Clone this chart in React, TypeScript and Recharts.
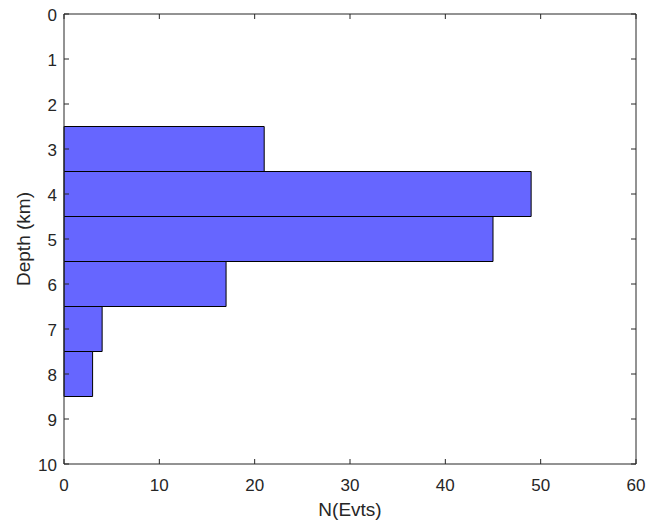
import React from "react";
import { BarChart, Bar, XAxis, YAxis } from "recharts";

const depths = [3, 4, 5, 6, 7, 8];
const counts = [21, 49, 45, 17, 4, 3];
const depthTicks = [0, 1, 2, 3, 4, 5, 6, 7, 8, 9, 10];
const countTicks = [0, 10, 20, 30, 40, 50, 60];

const data = depths.map((d, i) => ({ depth: d, count: counts[i] }));

const INK = "#262626";
const FONT = "'Liberation Sans', Arial, sans-serif";
const TICK_LEN = 5;
const MARGIN = 7;

const LeftTick = (props: any) => {
  const { x, y, payload } = props;
  const ax = x + MARGIN;
  return (
    <g>
      <line x1={ax} x2={ax + TICK_LEN} y1={y} y2={y} stroke={INK} />
      <text x={x} y={y + 1} textAnchor="end" dominantBaseline="central" fill={INK} fontSize={17} fontFamily={FONT}>
        {payload.value}
      </text>
    </g>
  );
};

const BottomTick = (props: any) => {
  const { x, y, payload } = props;
  const ay = y - MARGIN;
  return (
    <g>
      <line x1={x} x2={x} y1={ay} y2={ay - TICK_LEN} stroke={INK} />
      <text x={x} y={y + 8} textAnchor="middle" dy="0.71em" fill={INK} fontSize={17} fontFamily={FONT}>
        {payload.value}
      </text>
    </g>
  );
};

const RightTick = (props: any) => {
  const { x, y } = props;
  return <line x1={x} x2={x - TICK_LEN} y1={y} y2={y} stroke={INK} />;
};

const TopTick = (props: any) => {
  const { x, y } = props;
  return <line x1={x} x2={x} y1={y} y2={y + TICK_LEN} stroke={INK} />;
};

const YTitle = (props: any) => {
  const { viewBox } = props;
  const cx = viewBox.x + 23;
  const cy = viewBox.y + viewBox.height / 2;
  return (
    <text x={cx} y={cy} transform={`rotate(-90 ${cx} ${cy})`} textAnchor="middle" dominantBaseline="central" fill={INK} fontSize={19} fontFamily={FONT}>
      Depth (km)
    </text>
  );
};

const XTitle = (props: any) => {
  const { viewBox } = props;
  const cx = viewBox.x + viewBox.width / 2;
  const cy = viewBox.y + 45;
  return (
    <text x={cx} y={cy} textAnchor="middle" dominantBaseline="central" fill={INK} fontSize={19} fontFamily={FONT}>
      N(Evts)
    </text>
  );
};

export default function App() {
  return (
    <div style={{ position: "absolute", left: 0, top: 0, width: 650, height: 524, background: "#fff" }}>
      <BarChart
        width={650}
        height={524}
        data={data}
        layout="vertical"
        margin={{ top: 13, right: 13, bottom: 0, left: 0 }}
        barCategoryGap={0}
      >
        <XAxis
          type="number"
          dataKey="count"
          domain={[0, 60]}
          ticks={countTicks}
          height={60}
          tickSize={0}
          tickMargin={MARGIN}
          tickLine={false}
          axisLine={{ stroke: INK }}
          tick={<BottomTick />}
          interval={0}
          label={<XTitle />}
        />
        <XAxis
          xAxisId="top"
          orientation="top"
          type="number"
          dataKey="count"
          domain={[0, 60]}
          ticks={countTicks}
          allowDataOverflow
          height={1}
          tickSize={0}
          tickMargin={0}
          tickLine={false}
          axisLine={{ stroke: INK }}
          tick={<TopTick />}
          interval={0}
        />
        <YAxis
          type="number"
          dataKey="depth"
          domain={[0, 10]}
          ticks={depthTicks}
          width={64}
          tickSize={0}
          tickMargin={MARGIN}
          tickLine={false}
          axisLine={{ stroke: INK }}
          tick={<LeftTick />}
          interval={0}
          label={<YTitle />}
        />
        <YAxis
          yAxisId="right"
          orientation="right"
          type="number"
          dataKey="depth"
          domain={[0, 10]}
          ticks={depthTicks}
          allowDataOverflow
          width={1}
          tickSize={0}
          tickMargin={0}
          tickLine={false}
          axisLine={{ stroke: INK }}
          tick={<RightTick />}
          interval={0}
        />
        <Bar dataKey="count" fill="#6666ff" stroke="#000" strokeWidth={1} isAnimationActive={false} />
      </BarChart>
    </div>
  );
}
